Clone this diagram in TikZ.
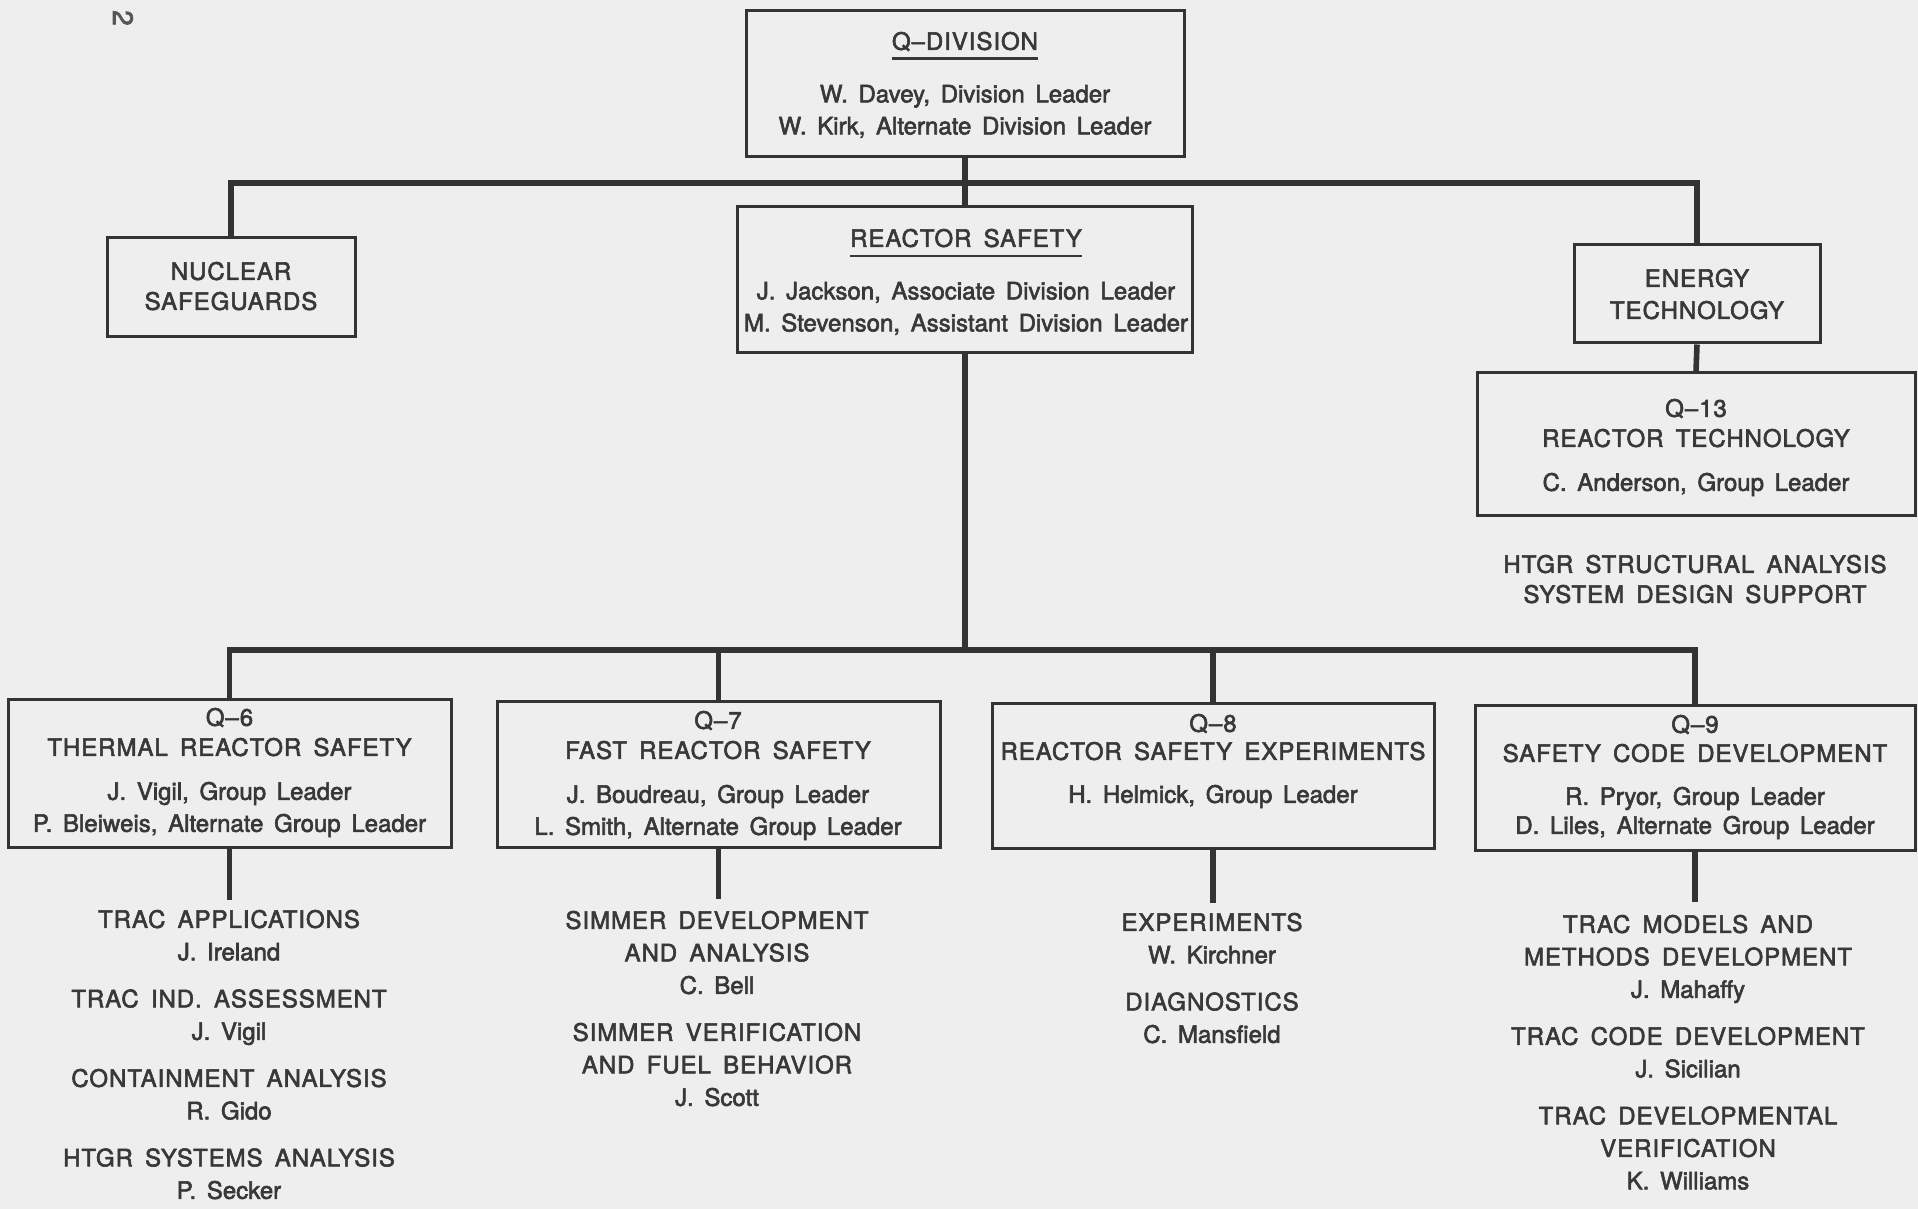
\documentclass[tikz,border=0pt]{standalone}
\usepackage{fontspec}
\setmainfont[WordSpace=1.6,FakeBold=2.4]{TeX Gyre Heros}
\newfontfamily\capsfont[LetterSpace=4,WordSpace=1.6,FakeBold=2.4]{TeX Gyre Heros}
\definecolor{bg}{HTML}{EEEEEE}
\definecolor{linec}{HTML}{333333}
\definecolor{txt}{HTML}{383838}
\newcommand{\cx}[1]{{\capsfont #1}}
\begin{document}
\begin{tikzpicture}[x=0.5pt,y=-0.5pt,
  box/.style={draw=linec,line width=1.5pt,inner sep=0pt},
  conn/.style={draw=linec,line width=2.8pt},
  uline/.style={draw=txt,line width=1.1pt},
  ttl/.style={font=\capsfont\fontsize{12}{15}\selectfont,text=txt,align=center,inner sep=0pt,anchor=north},
  nms/.style={font=\fontsize{12}{16}\selectfont,text=txt,align=center,inner sep=0pt,anchor=north},
  lst/.style={font=\fontsize{12}{16.25}\selectfont,text=txt,align=center,inner sep=0pt,anchor=north}]
\useasboundingbox[fill=bg] (0,0) rectangle (1918,1209);

% page number
\node[rotate=-90,font=\fontsize{14}{14}\selectfont,text=txt!85] (pg) at (123,18) {2};

% boxes
\node[box,minimum width=219pt,minimum height=73pt] (qdiv) at (965,84) {};
\node[box,minimum width=227.5pt,minimum height=73pt] (rs) at (965,280) {};
\node[box,minimum width=124pt,minimum height=49.5pt] (ns) at (231,287.5) {};
\node[box,minimum width=123pt,minimum height=49pt] (et) at (1697,294) {};
\node[box,minimum width=219pt,minimum height=71pt] (q13) at (1696,444) {};
\node[box,minimum width=221.5pt,minimum height=74pt] (q6) at (229.5,773) {};
\node[box,minimum width=221.5pt,minimum height=73pt] (q7) at (718.5,774) {};
\node[box,minimum width=221pt,minimum height=72.5pt] (q8) at (1213,775.5) {};
\node[box,minimum width=220pt,minimum height=72.5pt] (q9) at (1695,777.5) {};

% connectors
\coordinate (bus1) at (965,183);
\coordinate (bus2) at (965,650);
\coordinate (q6e) at (229.5,900);
\coordinate (q7e) at (718.5,899);
\coordinate (q8e) at (1213,903);
\coordinate (q9e) at (1695,902);
\draw[conn] (qdiv.south) -- (rs.north);
\draw[conn] (ns.north) |- (bus1) -| (et.north);
\draw[conn] (et.south) -- (q13.north);
\draw[conn] (rs.south) -- (bus2);
\draw[conn] (q6.north) |- (bus2) -| (q9.north);
\draw[conn] (q7.north) |- (bus2);
\draw[conn] (q8.north) |- (bus2);
\draw[conn] (q6.south) -- (q6e);
\draw[conn] (q7.south) -- (q7e);
\draw[conn] (q8.south) -- (q8e);
\draw[conn] (q9.south) -- (q9e);

% box texts
\node[ttl] (qdivT) at (965,31.5) {Q–DIVISION};
\draw[uline] ([yshift=-4.3pt]qdivT.base west) -- ([yshift=-4.3pt]qdivT.base east);
\node[nms] (qdivB) at (965,84.5) {W. Davey, Division Leader\\W. Kirk, Alternate Division Leader};

\node[ttl] (rsT) at (966,228.5) {REACTOR SAFETY};
\draw[uline] ([yshift=-4.7pt]rsT.base west) -- ([yshift=-4.7pt]rsT.base east);
\node[nms] (rsB) at (966,281.5) {J. Jackson, Associate Division Leader\\M. Stevenson, Assistant Division Leader};

\node[ttl] (nsT) at (231,261.5) {NUCLEAR\\SAFEGUARDS};
\node[ttl,font=\capsfont\fontsize{12}{16}\selectfont] (etT) at (1697,268.5) {ENERGY\\TECHNOLOGY};

\node[ttl] (q13T) at (1696,398.5) {Q–13\\REACTOR TECHNOLOGY};
\node[nms] (q13B) at (1696,472.5) {C. Anderson, Group Leader};
\node[ttl] (htgr) at (1695,554.5) {HTGR STRUCTURAL ANALYSIS\\SYSTEM DESIGN SUPPORT};

\node[ttl] (q6T) at (229.5,707.5) {Q–6\\THERMAL REACTOR SAFETY};
\node[nms] (q6B) at (229.5,781.5) {J. Vigil, Group Leader\\P. Bleiweis, Alternate Group Leader};

\node[ttl] (q7T) at (718,710.5) {Q–7\\FAST REACTOR SAFETY};
\node[nms] (q7B) at (718,784.5) {J. Boudreau, Group Leader\\L. Smith, Alternate Group Leader};

\node[ttl,font=\capsfont\fontsize{12}{14}\selectfont] (q8T) at (1213,713.5) {Q–8\\REACTOR SAFETY EXPERIMENTS};
\node[nms] (q8B) at (1213,784.5) {H. Helmick, Group Leader};

\node[ttl,font=\capsfont\fontsize{12}{14.5}\selectfont] (q9T) at (1695,714.5) {Q–9\\SAFETY CODE DEVELOPMENT};
\node[nms,font=\fontsize{12}{14.5}\selectfont] (q9B) at (1695,786.5) {R. Pryor, Group Leader\\D. Liles, Alternate Group Leader};

% lists
\node[lst] (q6L) at (229,909.5) {\cx{TRAC APPLICATIONS}\\J. Ireland\\[7.25pt]\cx{TRAC IND. ASSESSMENT}\\J. Vigil\\[7.25pt]\cx{CONTAINMENT ANALYSIS}\\R. Gido\\[7.25pt]\cx{HTGR SYSTEMS ANALYSIS}\\P. Secker};
\node[lst] (q7L) at (717,910.5) {\cx{SIMMER DEVELOPMENT}\\\cx{AND ANALYSIS}\\C. Bell\\[7.25pt]\cx{SIMMER VERIFICATION}\\\cx{AND FUEL BEHAVIOR}\\J. Scott};
\node[lst] (q8L) at (1212,912.5) {\cx{EXPERIMENTS}\\W. Kirchner\\[7.25pt]\cx{DIAGNOSTICS}\\C. Mansfield};
\node[lst] (q9L) at (1688,914.5) {\cx{TRAC MODELS AND}\\\cx{METHODS DEVELOPMENT}\\J. Mahaffy\\[7.25pt]\cx{TRAC CODE DEVELOPMENT}\\J. Sicilian\\[7.25pt]\cx{TRAC DEVELOPMENTAL}\\\cx{VERIFICATION}\\K. Williams};
\end{tikzpicture}
\end{document}
